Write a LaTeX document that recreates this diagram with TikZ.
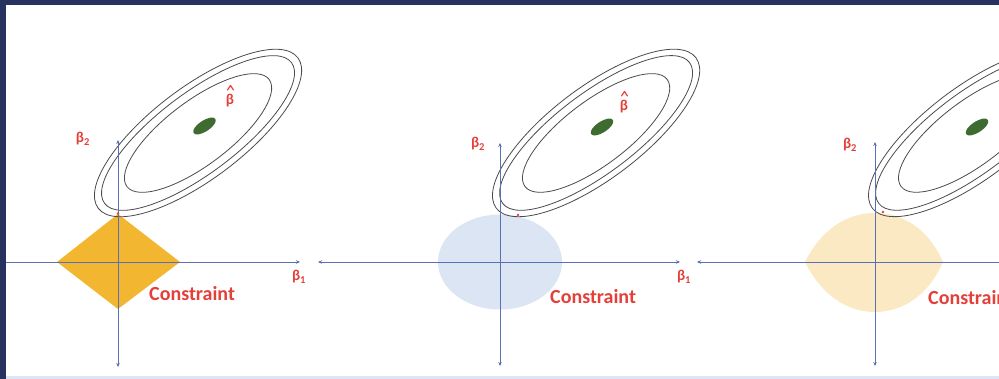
\documentclass[tikz,border=0pt]{standalone}
\usepackage{fontspec}
\setmainfont{Carlito}
\usetikzlibrary{arrows.meta}
\definecolor{framec}{RGB}{40,50,95}
\definecolor{axisblue}{RGB}{90,112,180}
\definecolor{lblred}{RGB}{228,64,58}
\definecolor{lassoc}{RGB}{242,182,48}
\definecolor{ridgec}{RGB}{219,229,243}
\definecolor{enetc}{RGB}{251,233,195}
\definecolor{blobc}{RGB}{62,108,48}
\definecolor{ringc}{RGB}{75,75,75}
\definecolor{edgec}{RGB}{220,230,245}
\begin{document}
\begin{tikzpicture}[x=1pt,y=-1pt,
  axisline/.style={draw=axisblue, line width=0.9pt},
  ring/.style={draw=ringc, line width=0.8pt},
  lbl/.style={text=lblred, font=\bfseries\fontsize{15}{15}\selectfont, inner sep=0pt},
  cons/.style={text=lblred, font=\bfseries\fontsize{20}{20}\selectfont, inner sep=0pt, anchor=west},
  hatline/.style={draw=lblred, line width=1.2pt, line cap=round, line join=round},
  tangent/.style={fill=lblred}
]
\useasboundingbox (0,0) rectangle (999,379);
\clip (0,0) rectangle (999,379);
\fill[white] (0,0) rectangle (999,379);

% ---------- panel 1 (lasso) ----------
\fill[lassoc] (57,262) -- (118,214) -- (180,262) -- (118,309) -- cycle;
\coordinate (c1) at (198,133);
\draw[ring, rotate around={37:(c1)}] (c1) ellipse [x radius=125, y radius=46];
\draw[ring, rotate around={37:(c1)}] (c1) ellipse [x radius=117, y radius=40];
\draw[ring, rotate around={37:(c1)}] (c1) ellipse [x radius=89, y radius=32];
\coordinate (g1) at (204.5,126);
\fill[blobc, rotate around={33:(g1)}] (g1) ellipse [x radius=13, y radius=5.5];
\coordinate (h1s) at (6,262);
\coordinate (h1e) at (300,262);
\coordinate (v1t) at (118,140);
\coordinate (v1b) at (118,367);
\draw[axisline, -{Stealth[length=4pt,width=3.5pt]}] (h1s) -- (h1e);
\draw[axisline, {Stealth[length=4pt,width=3.5pt]}-{Stealth[length=4pt,width=3.5pt]}] (v1b) -- (v1t);
\fill[tangent] (118,213.5) circle (1.4);
\node[lbl] (b2a) at (83,139) {β\textsubscript{2}};
\node[lbl] (b1a) at (299,277) {β\textsubscript{1}};
\node[lbl] (bha) at (230,101) {β};
\draw[hatline] (227.5,90) -- (230.5,85.5) -- (233.5,90);
\node[cons] (consa) at (149,294) {Constraint};

% ---------- panel 2 (ridge) ----------
\fill[ridgec] (500,262) ellipse [x radius=62, y radius=47.5];
\coordinate (c2) at (596,133);
\draw[ring, rotate around={37:(c2)}] (c2) ellipse [x radius=125, y radius=46];
\draw[ring, rotate around={37:(c2)}] (c2) ellipse [x radius=117, y radius=40];
\draw[ring, rotate around={37:(c2)}] (c2) ellipse [x radius=89, y radius=32];
\coordinate (g2) at (602,127);
\fill[blobc, rotate around={33:(g2)}] (g2) ellipse [x radius=13, y radius=5.5];
\coordinate (h2s) at (318,262);
\coordinate (h2e) at (680,262);
\coordinate (v2t) at (500,143);
\coordinate (v2b) at (500,366);
\draw[axisline, {Stealth[length=4pt,width=3.5pt]}-{Stealth[length=4pt,width=3.5pt]}] (h2s) -- (h2e);
\draw[axisline, {Stealth[length=4pt,width=3.5pt]}-{Stealth[length=4pt,width=3.5pt]}] (v2b) -- (v2t);
\fill[tangent] (518,215) circle (1.4);
\node[lbl] (b2b) at (478,144) {β\textsubscript{2}};
\node[lbl] (b1b) at (684,277) {β\textsubscript{1}};
\node[lbl] (bhb) at (624,107) {β};
\draw[hatline] (621.5,96) -- (624.5,91.5) -- (627.5,96);
\node[cons] (consb) at (550,297) {Constraint};

% ---------- panel 3 (elastic net) ----------
\fill[enetc] (805,262) .. controls (822,228) and (848,213) .. (875,213)
  .. controls (902,213) and (928,228) .. (943,262)
  .. controls (928,296) and (902,312) .. (875,312)
  .. controls (848,312) and (822,296) .. (805,262) -- cycle;
\coordinate (c3) at (972,133);
\draw[ring, rotate around={37:(c3)}] (c3) ellipse [x radius=125, y radius=46];
\draw[ring, rotate around={37:(c3)}] (c3) ellipse [x radius=117, y radius=40];
\draw[ring, rotate around={37:(c3)}] (c3) ellipse [x radius=89, y radius=32];
\coordinate (g3) at (977,127);
\fill[blobc, rotate around={33:(g3)}] (g3) ellipse [x radius=13, y radius=5.5];
\coordinate (h3s) at (697,262);
\coordinate (h3e) at (1010,262);
\coordinate (v3t) at (875,142);
\coordinate (v3b) at (875,366);
\draw[axisline, {Stealth[length=4pt,width=3.5pt]}-] (h3s) -- (h3e);
\draw[axisline, {Stealth[length=4pt,width=3.5pt]}-{Stealth[length=4pt,width=3.5pt]}] (v3b) -- (v3t);
\fill[tangent] (883,212) circle (1.4);
\node[lbl] (b2c) at (850,145) {β\textsubscript{2}};
\node[cons] (consc) at (928,298) {Constraint};

% ---------- frame ----------
\fill[framec] (0,0) rectangle (999,5);
\fill[framec] (0,0) rectangle (6,379);
\fill[edgec] (6,376) rectangle (999,379);
\end{tikzpicture}
\end{document}
